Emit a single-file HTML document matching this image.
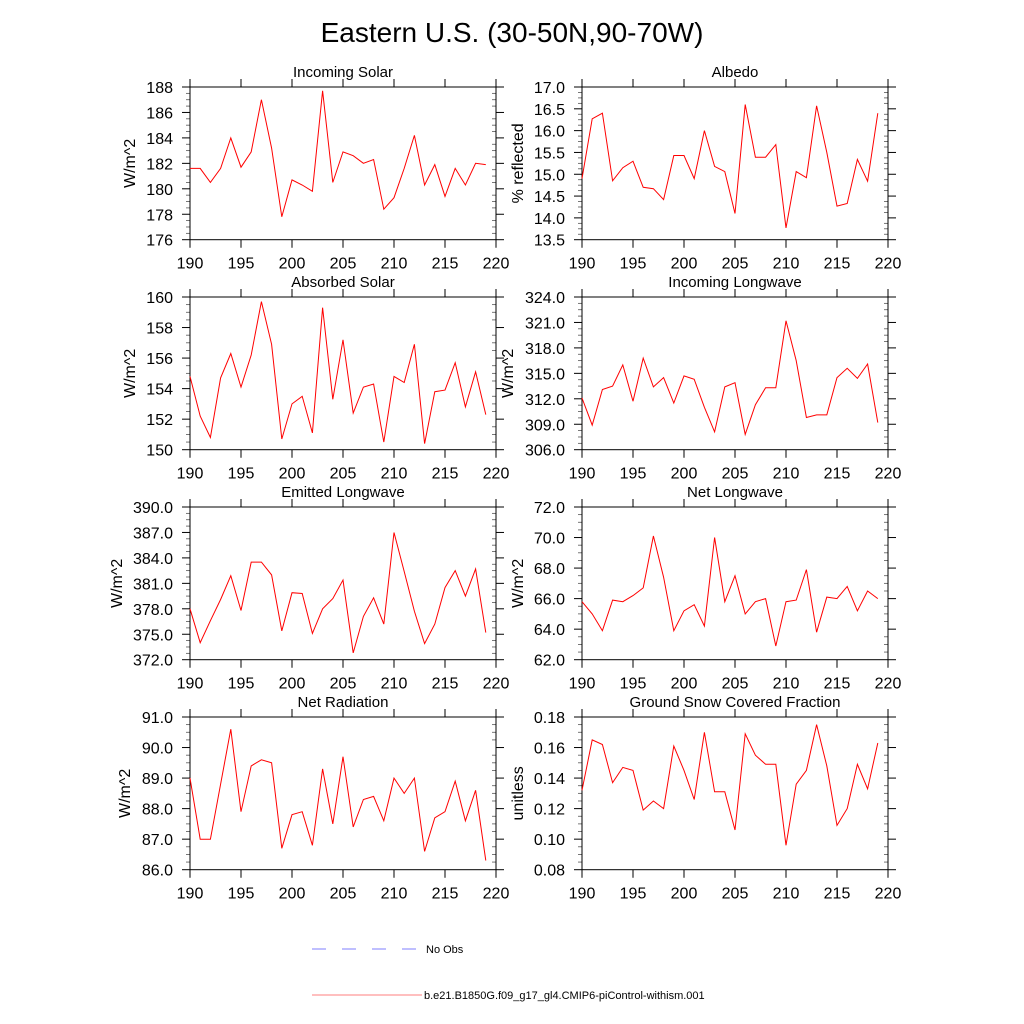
<!DOCTYPE html>
<html><head><meta charset="utf-8"><style>
body{margin:0;background:#fff}
svg{display:block;font-family:"Liberation Sans",Arial,sans-serif}
</style></head><body>
<svg id="c" width="1024" height="1024" viewBox="0 0 1024 1024">
<text x="512" y="42" text-anchor="middle" font-size="28">Eastern U.S. (30-50N,90-70W)</text>
<g id="panels"></g>
<g>
<line x1="312" y1="949" x2="419" y2="949" stroke="#7f7fff" stroke-width="1" stroke-dasharray="14,16"/>
<text x="426" y="953" font-size="11">No Obs</text>
<line x1="312" y1="995" x2="422" y2="995" stroke="#ff7f7f" stroke-width="1"/>
<text x="424" y="999" font-size="11">b.e21.B1850G.f09_g17_gl4.CMIP6-piControl-withism.001</text>
</g>
</svg>
<script>
const years=[190,191,192,193,194,195,196,197,198,199,200,201,202,203,204,205,206,207,208,209,210,211,212,213,214,215,216,217,218,219];
const xTicks=[190,195,200,205,210,215,220];
const incomingSolar=[181.6,181.6,180.5,181.6,184.0,181.7,182.9,187.0,183.2,177.8,180.7,180.3,179.8,187.7,180.5,182.9,182.6,182.0,182.3,178.4,179.3,181.6,184.2,180.3,181.9,179.4,181.6,180.3,182.0,181.9];
const albedo=[14.9,16.27,16.4,14.85,15.15,15.3,14.7,14.67,14.42,15.43,15.43,14.9,16.0,15.18,15.06,14.1,16.6,15.39,15.39,15.68,13.77,15.06,14.92,16.57,15.5,14.27,14.33,15.34,14.84,16.4];
const absorbedSolar=[154.8,152.2,150.8,154.7,156.3,154.1,156.2,159.7,156.9,150.7,153.0,153.5,151.1,159.3,153.3,157.2,152.4,154.1,154.3,150.5,154.8,154.4,156.9,150.4,153.8,153.9,155.7,152.8,155.1,152.3];
const incomingLW=[312.1,308.9,313.1,313.5,316.0,311.7,316.8,313.4,314.5,311.5,314.7,314.3,311.0,308.1,313.4,313.9,307.8,311.3,313.3,313.3,321.2,316.5,309.8,310.1,310.1,314.5,315.6,314.4,316.1,309.2];
const emittedLW=[378.0,374.0,376.6,379.1,381.9,377.8,383.5,383.5,382.0,375.4,379.9,379.8,375.1,378.0,379.2,381.4,372.8,377.1,379.3,376.2,387.0,382.4,377.7,373.9,376.2,380.5,382.5,379.5,382.7,375.2];
const netLW=[65.8,65.0,63.9,65.9,65.8,66.2,66.7,70.1,67.4,63.9,65.2,65.6,64.2,70.0,65.8,67.5,65.0,65.8,66.0,62.9,65.8,65.9,67.9,63.8,66.1,66.0,66.8,65.2,66.5,66.0];
const netRad=[89.0,87.0,87.0,88.8,90.6,87.9,89.4,89.6,89.5,86.7,87.8,87.9,86.8,89.3,87.5,89.7,87.4,88.3,88.4,87.6,89.0,88.5,89.0,86.6,87.7,87.9,88.9,87.6,88.6,86.3];
const snowFrac=[0.132,0.165,0.162,0.137,0.147,0.145,0.119,0.125,0.120,0.161,0.145,0.126,0.170,0.131,0.131,0.106,0.169,0.155,0.149,0.149,0.096,0.136,0.145,0.175,0.148,0.109,0.120,0.149,0.133,0.163];
const yTicksIS=[176,178,180,182,184,186,188];
const yTicksAlb=[13.5,14.0,14.5,15.0,15.5,16.0,16.5,17.0];
const yTicksAS=[150,152,154,156,158,160];
const yTicksILW=[306,309,312,315,318,321,324];
const yTicksELW=[372,375,378,381,384,387,390];
const yTicksNLW=[62,64,66,68,70,72];
const yTicksNR=[86,87,88,89,90,91];
const yTicksSnow=[0.08,0.10,0.12,0.14,0.16,0.18];
const panels=[
 {name:"incoming-solar",title:"Incoming Solar",ylab:"W/m^2",data:incomingSolar,ticks:yTicksIS,dec:0,col:0,row:0,yt:55},
 {name:"albedo",title:"Albedo",ylab:"% reflected",data:albedo,ticks:yTicksAlb,dec:1,col:1,row:0,yt:59},
 {name:"absorbed-solar",title:"Absorbed Solar",ylab:"W/m^2",data:absorbedSolar,ticks:yTicksAS,dec:0,col:0,row:1,yt:55},
 {name:"incoming-longwave",title:"Incoming Longwave",ylab:"W/m^2",data:incomingLW,ticks:yTicksILW,dec:1,col:1,row:1,yt:69},
 {name:"emitted-longwave",title:"Emitted Longwave",ylab:"W/m^2",data:emittedLW,ticks:yTicksELW,dec:1,col:0,row:2,yt:68},
 {name:"net-longwave",title:"Net Longwave",ylab:"W/m^2",data:netLW,ticks:yTicksNLW,dec:1,col:1,row:2,yt:59},
 {name:"net-radiation",title:"Net Radiation",ylab:"W/m^2",data:netRad,ticks:yTicksNR,dec:1,col:0,row:3,yt:60},
 {name:"snow-fraction",title:"Ground Snow Covered Fraction",ylab:"unitless",data:snowFrac,ticks:yTicksSnow,dec:2,col:1,row:3,yt:59}
];
const NS="http://www.w3.org/2000/svg";
const root=document.getElementById("panels");
function mk(t,a,p){const e=document.createElementNS(NS,t);for(const k in a)e.setAttribute(k,a[k]);p.appendChild(e);return e;}
const colX=[190,582],rowY=[87,297,507,717],W=306,H=152.7;
panels.forEach(p=>{
 const x0=colX[p.col],y0=rowY[p.row];
 const g=mk("g",{},root);
 
 
 const ymin=p.ticks[0],ymax=p.ticks[p.ticks.length-1];
 const sx=v=>x0+(v-190)/30*W;
 const sy=v=>y0+H-(v-ymin)/(ymax-ymin)*H;
 const step=p.ticks[1]-p.ticks[0];
 for(let i=0;i<p.ticks.length-1;i++)for(let j=1;j<4;j++){
  const y=sy(p.ticks[i]+step*j/4);
  const m1=mk("line",{x1:x0-4,x2:x0,y1:y,y2:y,stroke:"#555","stroke-width":0.8},g);
  
  
  const m2=mk("line",{x1:x0+W-4,x2:x0+W,y1:y,y2:y,stroke:"#555","stroke-width":0.8},g);
  
  
 }
 p.ticks.forEach(v=>{
  const y=sy(v);
  const t1=mk("line",{x1:x0-8,x2:x0,y1:y,y2:y,stroke:"#000","stroke-width":1},g);
  
  
  const t2=mk("line",{x1:x0+W,x2:x0+W+8,y1:y,y2:y,stroke:"#000","stroke-width":1},g);
  
  
  const tl=mk("text",{x:x0-17,y:y+6,"text-anchor":"end","font-size":16},g);
  tl.textContent=v.toFixed(p.dec);
  
  
 });
 xTicks.forEach(v=>{
  const x=sx(v);
  const t1=mk("line",{x1:x,x2:x,y1:y0-8,y2:y0,stroke:"#000","stroke-width":1},g);
  
  
  const t2=mk("line",{x1:x,x2:x,y1:y0+H,y2:y0+H+8,stroke:"#000","stroke-width":1},g);
  
  
  const tl=mk("text",{x:x,y:y0+H+29,"text-anchor":"middle","font-size":16},g);
  tl.textContent=v;
  
  
 });
 const box=mk("rect",{x:x0,y:y0,width:W,height:H,fill:"none",stroke:"#000","stroke-width":1},g);
 
 
 const tt=mk("text",{x:x0+W/2,y:y0-10,"text-anchor":"middle","font-size":15},g);
 tt.textContent=p.title;
 
 
 const yl=mk("text",{transform:`translate(${x0-p.yt},${y0+H/2}) rotate(-90)`,"text-anchor":"middle","font-size":16},g);
 yl.textContent=p.ylab;
 
 
 const pts=p.data.map((v,i)=>sx(years[i]).toFixed(1)+","+sy(v).toFixed(1)).join(" ");
 const ln=mk("polyline",{points:pts,fill:"none",stroke:"#ff0000","stroke-width":1},g);
 
 
});
</script>
</body></html>
